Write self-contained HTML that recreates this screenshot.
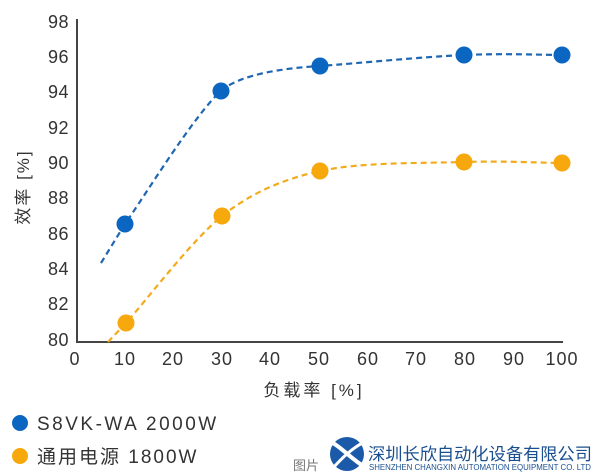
<!DOCTYPE html>
<html><head><meta charset="utf-8"><style>
html,body{margin:0;padding:0;background:#fff;}
body{width:600px;height:474px;overflow:hidden;}
svg{display:block;}
text{font-family:"Liberation Sans","Noto Sans CJK SC",sans-serif;}
</style></head><body>
<svg width="600" height="474" viewBox="0 0 600 474" xmlns="http://www.w3.org/2000/svg">
<rect width="600" height="474" fill="#fff"/>
<!-- axes -->
<line x1="77" y1="19" x2="77" y2="343" stroke="#444" stroke-width="2"/>
<line x1="76" y1="342" x2="563" y2="342" stroke="#444" stroke-width="2"/>
<!-- y ticks labels -->
<g font-size="18" fill="#333" text-anchor="end" letter-spacing="0.5">
<text x="69" y="28">98</text>
<text x="69" y="63">96</text>
<text x="69" y="98">94</text>
<text x="69" y="134">92</text>
<text x="69" y="169">90</text>
<text x="69" y="204">88</text>
<text x="69" y="240">86</text>
<text x="69" y="275">84</text>
<text x="69" y="310">82</text>
<text x="69" y="346">80</text>
</g>
<!-- x tick labels -->
<g font-size="18" fill="#333" text-anchor="middle" letter-spacing="1">
<text x="75" y="365">0</text>
<text x="125" y="365">10</text>
<text x="173" y="365">20</text>
<text x="222" y="365">30</text>
<text x="270" y="365">40</text>
<text x="319" y="365">50</text>
<text x="368" y="365">60</text>
<text x="416" y="365">70</text>
<text x="465" y="365">80</text>
<text x="514" y="365">90</text>
<text x="562" y="365">100</text>
</g>
<!-- axis titles -->
<text x="314" y="396" font-size="17" fill="#333" text-anchor="middle" letter-spacing="3">负载率 [%]</text>
<text transform="translate(29,187) rotate(-90)" font-size="17" fill="#333" text-anchor="middle" letter-spacing="2">效率 [%]</text>
<!-- blue curve -->
<path d="M101,263 L125,224 C145,195.3 195,114 221,91 C240,74 285,68 320,66 C360.5,63 423.7,56.8 464,55 C504.3,53.2 545.7,55 562,55" fill="none" stroke="#1f66b3" stroke-width="2.2" stroke-dasharray="6,4"/>
<!-- orange curve -->
<path d="M108,342 L126,323 C145,302 192,240 222,216 C250,194 280,180 320,171 C360.3,162 423.7,163.3 464,162 C504.3,160.7 545.7,163 562,163" fill="none" stroke="#f2ab1c" stroke-width="2.2" stroke-dasharray="6,4"/>
<!-- markers -->
<g fill="#0a66c0">
<circle cx="125" cy="224" r="8.5"/>
<circle cx="221" cy="91" r="8.5"/>
<circle cx="320" cy="66" r="8.5"/>
<circle cx="464" cy="55" r="8.5"/>
<circle cx="562" cy="55" r="8.5"/>
</g>
<g fill="#f7a80c">
<circle cx="126" cy="323" r="8.5"/>
<circle cx="222" cy="216" r="8.5"/>
<circle cx="320" cy="171" r="8.5"/>
<circle cx="464" cy="162" r="8.5"/>
<circle cx="562" cy="163" r="8.5"/>
</g>
<!-- legend -->
<circle cx="20" cy="423" r="8" fill="#0a66c0"/>
<text x="37" y="430" font-size="19" fill="#333" letter-spacing="2.5">S8VK-WA 2000W</text>
<circle cx="20" cy="456" r="8" fill="#f7a80c"/>
<text x="37" y="463" font-size="19" fill="#333" letter-spacing="2">通用电源 1800W</text>
<!-- watermark -->
<text x="293" y="470" font-size="13" fill="#777">图片</text>
<g>
<circle cx="347" cy="454" r="17" fill="#1a5aa8"/>
<path d="M331,442 C340,446 350,458 366,468" stroke="#fff" stroke-width="4" fill="none"/>
<path d="M333,468 C342,458 352,448 366,441" stroke="#fff" stroke-width="3" fill="none"/>
<path d="M352,434 C360,436 366,442 366,448" stroke="#fff" stroke-width="2" fill="none"/>
</g>
<text x="368" y="460" font-size="17.2" fill="#1a4f8f" textLength="224" lengthAdjust="spacingAndGlyphs">深圳长欣自动化设备有限公司</text>
<text x="369" y="470" font-size="8" fill="#1a4f8f" textLength="222" lengthAdjust="spacingAndGlyphs">SHENZHEN CHANGXIN AUTOMATION EQUIPMENT CO. LTD</text>
</svg>
</body></html>
